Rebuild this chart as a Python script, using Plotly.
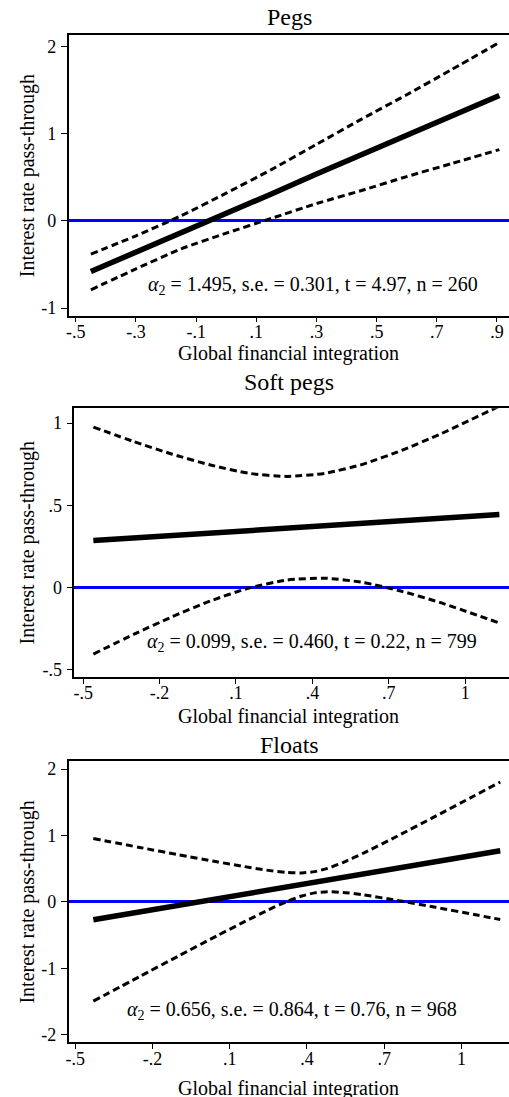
import plotly.graph_objects as go

W, H = 509, 1097

# ---------------- data ----------------
# Pegs
pegs_x = [-0.45, -0.3, -0.15, 0.0, 0.15, 0.3, 0.45, 0.6, 0.75, 0.908]
pegs_est = [-0.58, -0.36, -0.13, 0.09, 0.31, 0.54, 0.76, 0.98, 1.20, 1.44]
pegs_hi = [-0.38, -0.17, 0.06, 0.32, 0.59, 0.88, 1.17, 1.45, 1.74, 2.05]
pegs_lo = [-0.79, -0.55, -0.32, -0.14, 0.03, 0.20, 0.35, 0.51, 0.66, 0.82]

# Soft pegs
soft_x = [-0.46, -0.3, -0.15, 0.0, 0.15, 0.3, 0.45, 0.6, 0.75, 0.9, 1.134]
soft_est = [0.286, 0.302, 0.317, 0.332, 0.346, 0.361, 0.376, 0.391, 0.406, 0.421, 0.444]
soft_hi = [0.976, 0.887, 0.811, 0.745, 0.695, 0.676, 0.695, 0.751, 0.834, 0.932, 1.103]
soft_lo = [-0.404, -0.283, -0.177, -0.081, -0.003, 0.046, 0.057, 0.031, -0.022, -0.090, -0.215]

# Floats
float_x = [-0.43, -0.25, -0.1, 0.05, 0.15, 0.25, 0.32, 0.38, 0.43, 0.48, 0.54, 0.62, 0.75, 0.9, 1.05, 1.151]
float_est = [-0.270, -0.152, -0.053, 0.046, 0.112, 0.177, 0.224, 0.263, 0.296, 0.329, 0.368, 0.421, 0.506, 0.605, 0.704, 0.770]
float_hi = [0.955, 0.821, 0.711, 0.604, 0.537, 0.475, 0.445, 0.437, 0.456, 0.505, 0.593, 0.736, 0.989, 1.292, 1.599, 1.806]
float_lo = [-1.495, -1.125, -0.817, -0.512, -0.313, -0.121, 0.003, 0.089, 0.136, 0.153, 0.143, 0.106, 0.023, -0.082, -0.191, -0.266]

titles = ["Pegs", "Soft pegs", "Floats"]
stats = [
    "<i>α</i><sub>2</sub> = 1.495, s.e. = 0.301, t = 4.97, n = 260",
    "<i>α</i><sub>2</sub> = 0.099, s.e. = 0.460, t = 0.22, n = 799",
    "<i>α</i><sub>2</sub> = 0.656, s.e. = 0.864, t = 0.76, n = 968",
]
x_title = "Global financial integration"
y_title = "Interest rate pass-through"

x_tickvals = [[-0.5, -0.3, -0.1, 0.1, 0.3, 0.5, 0.7, 0.9],
              [-0.5, -0.2, 0.1, 0.4, 0.7, 1.0],
              [-0.5, -0.2, 0.1, 0.4, 0.7, 1.0]]
x_ticktext = [["-.5", "-.3", "-.1", ".1", ".3", ".5", ".7", ".9"],
              ["-.5", "-.2", ".1", ".4", ".7", "1"],
              ["-.5", "-.2", ".1", ".4", ".7", "1"]]
y_tickvals = [[-1, 0, 1, 2], [-0.5, 0, 0.5, 1], [-2, -1, 0, 1, 2]]
y_ticktext = [["-1", "0", "1", "2"], ["-.5", "0", ".5", "1"], ["-2", "-1", "0", "1", "2"]]

# ---------------- layout geometry (pixels) ----------------
boxes = [  # left, top, bottom
    (66, 33.3, 315),
    (71.7, 408, 678),
    (66, 762.7, 1045),
]
x_ranges = [[-0.524, 0.940], [-0.535, 1.172], [-0.526, 1.185]]
y_ranges = [[-1.086, 2.134], [-0.543, 1.091], [-2.115, 2.12]]

title_y = [15.5, 382, 746.5]
xtitle_y = [353, 717.5, 1091]
stats_pos = [(311.5, 285), (311, 643), (291, 1013)]

FONT = "Liberation Serif"

fig = go.Figure()
series = [(pegs_x, pegs_est, pegs_hi, pegs_lo),
          (soft_x, soft_est, soft_hi, soft_lo),
          (float_x, float_est, float_hi, float_lo)]

layout = dict(
    width=W, height=H, margin=dict(l=0, r=0, t=0, b=0),
    paper_bgcolor="white", plot_bgcolor="white", showlegend=False,
    font=dict(family=FONT, color="black"), hovermode=False,
)
annotations = []

def px2x(p):
    return p / W

def px2y(p):
    return 1 - p / H

for i, (xs, est, hi, lo) in enumerate(series):
    n = i + 1
    xa = "x" if n == 1 else f"x{n}"
    ya = "y" if n == 1 else f"y{n}"
    for ys in (hi, lo):
        fig.add_trace(go.Scatter(x=xs, y=ys, mode="lines", xaxis=xa, yaxis=ya,
                                 line=dict(color="black", width=3, dash="7px,4px", shape="spline", smoothing=0.6),
                                 hoverinfo="skip"))
    fig.add_trace(go.Scatter(x=xs, y=est, mode="lines", xaxis=xa, yaxis=ya,
                             line=dict(color="black", width=5.5), hoverinfo="skip"))

    left, top, bottom = boxes[i]
    layout[f"xaxis{'' if n == 1 else n}"] = dict(
        domain=[px2x(left), 1.0], range=x_ranges[i], anchor=ya,
        tickmode="array", tickvals=x_tickvals[i], ticktext=x_ticktext[i],
        ticks="outside", ticklen=5, tickwidth=1.2, tickcolor="black",
        showline=True, linecolor="black", linewidth=1.5, mirror=True,
        showgrid=False, zeroline=False, tickfont=dict(size=18, family=FONT),
        ticklabelstandoff=-6,
    )
    layout[f"yaxis{'' if n == 1 else n}"] = dict(
        domain=[px2y(bottom), px2y(top)], range=y_ranges[i], anchor=xa,
        tickmode="array", tickvals=y_tickvals[i], ticktext=y_ticktext[i],
        ticks="outside", ticklen=6, tickwidth=1.2, tickcolor="black",
        showline=True, linecolor="black", linewidth=1.5,
        showgrid=False, zeroline=True, zerolinecolor="#0000FF", zerolinewidth=2.5,
        tickfont=dict(size=18, family=FONT), ticklabelstandoff=1,
    )

    annotations.append(dict(text=titles[i], x=px2x(288), y=px2y(title_y[i]), xref="paper", yref="paper",
                            xanchor="center", yanchor="middle", showarrow=False, font=dict(size=24, family=FONT)))
    annotations.append(dict(text=x_title, x=px2x(287), y=px2y(xtitle_y[i]), xref="paper", yref="paper",
                            xanchor="center", yanchor="middle", showarrow=False, font=dict(size=20, family=FONT)))
    annotations.append(dict(text=y_title, x=px2x(25), y=px2y((top + bottom) / 2), xref="paper", yref="paper",
                            xanchor="center", yanchor="middle", textangle=-90, showarrow=False,
                            font=dict(size=20, family=FONT)))
    sx, sy = stats_pos[i]
    annotations.append(dict(text=stats[i], x=px2x(sx), y=px2y(sy), xref="paper", yref="paper",
                            xanchor="center", yanchor="middle", showarrow=False, font=dict(size=20, family=FONT)))

layout["annotations"] = annotations
fig.update_layout(**layout)
fig.write_html("out.html", config={"displayModeBar": False},
               post_script="document.body.style.margin='0px';document.body.style.padding='0px';"
                           "document.body.style.overflow='hidden';")
